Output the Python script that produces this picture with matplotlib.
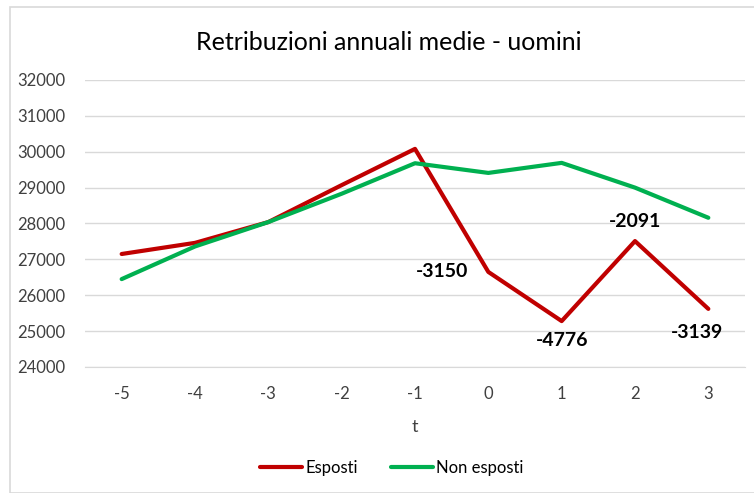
import matplotlib.pyplot as plt
from matplotlib.patches import Rectangle

plt.rcParams['font.family'] = ['Lato', 'DejaVu Sans']
plt.rcParams['axes.unicode_minus'] = False

t = [-5, -4, -3, -2, -1, 0, 1, 2, 3]
esposti = [27150, 27460, 28040, 29070, 30080, 26650, 25280, 27510, 25620]
non_esposti = [26450, 27360, 28040, 28830, 29680, 29410, 29690, 29000, 28160]
diff_idx = [5, 6, 7, 8]
diff_labels = ["-3150", "-4776", "-2091", "-3139"]
label_offsets = [(-33, 0), (0, -14), (0, 14), (-8, -17)]

fig = plt.figure(figsize=(7.54, 4.93), dpi=100)
fig.patches.append(Rectangle((10 / 754, 0), 1, 1 - 7 / 493, transform=fig.transFigure,
                             fill=False, edgecolor="#d9d9d9", linewidth=1.2))
ax = fig.add_axes([85 / 754, 1 - 367 / 493, 660 / 754, 287 / 493])

ax.plot(t, esposti, color="#c00000", linewidth=3, label="Esposti", solid_capstyle="round")
ax.plot(t, non_esposti, color="#00b050", linewidth=3, label="Non esposti", solid_capstyle="round")

for i, lab, (dx, dy) in zip(diff_idx, diff_labels, label_offsets):
    ax.annotate(lab, (t[i], esposti[i]), xytext=(dx, dy), textcoords="offset points",
                ha="center", va="center", fontsize=14, fontweight="bold", color="#000000")

ax.set_xlim(-5.5, 3.5)
ax.set_ylim(24000, 32000)
ax.set_xticks(t)
ax.set_yticks(range(24000, 32001, 1000))
ax.grid(axis="y", color="#d9d9d9", linewidth=1)
ax.set_axisbelow(True)
for s in ["top", "right", "left"]:
    ax.spines[s].set_visible(False)
ax.spines["bottom"].set_color("#d9d9d9")
ax.tick_params(length=0, labelsize=12, labelcolor="#404040")
ax.tick_params(axis="x", pad=14)
ax.tick_params(axis="y", pad=14)
ax.set_xlabel("t", fontsize=13, color="#404040", labelpad=12)

fig.text(0.515, 1 - 42 / 493, "Retribuzioni annuali medie - uomini", ha="center", va="center",
         fontsize=18, color="#000000")
fig.legend(loc="center", bbox_to_anchor=(0.52, 1 - 468 / 493), ncol=2, frameon=False,
           fontsize=12, handlelength=2.5, columnspacing=2, handletextpad=0.2)

fig.savefig("out.png", dpi=100)
